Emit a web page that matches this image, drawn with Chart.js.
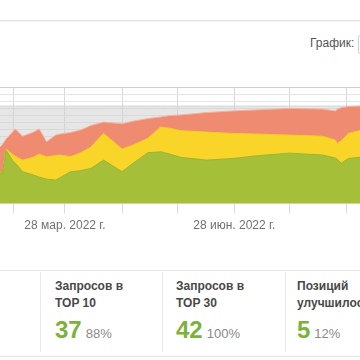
<!DOCTYPE html>
<html>
<head>
<meta charset="utf-8">
<script src="https://cdn.jsdelivr.net/npm/chart.js@4.4.0/dist/chart.umd.min.js"></script>
<style>
  html,body{margin:0;padding:0;background:#fff;}
  body{width:360px;height:360px;overflow:hidden;position:relative;font-family:"Liberation Sans",Arial,sans-serif;}
  .abs{position:absolute;}
  #topline{left:0;top:20px;width:360px;height:1px;background:#e3e3e3;box-shadow:0 1px 1px rgba(0,0,0,0.05);}
  #grafik{left:310px;top:36px;font-size:12px;color:#555;line-height:14px;white-space:nowrap;}
  #selbox{left:358px;top:35px;width:20px;height:17px;border:1px solid #cfcfcf;border-radius:2px;}
  #wrap{left:0;top:80px;width:360px;height:160px;}
  .hl{left:0;width:360px;height:1px;background:#e6e6e6;}
  .sep{top:272px;width:1px;height:80px;background:#e8e8e8;}
  .cell{top:278px;white-space:nowrap;}
  .ttl{font-weight:bold;font-size:12px;line-height:16.5px;color:#484848;}
  .num{margin-top:7px;line-height:24px;white-space:nowrap;}
  .big{font-weight:bold;font-size:24px;color:#7db23a;}
  .pct{font-size:13px;color:#8a8a8a;margin-left:4px;}
</style>
</head>
<body>
<div id="topline" class="abs"></div>
<div id="grafik" class="abs">График:</div>
<div id="selbox" class="abs"></div>
<div id="wrap" class="abs"><canvas id="c" width="360" height="160"></canvas></div>

<div class="abs hl" style="top:270px"></div>
<div class="abs hl" style="top:356px"></div>
<div class="abs sep" style="left:40px"></div>
<div class="abs sep" style="left:162px"></div>
<div class="abs sep" style="left:285px"></div>

<div class="abs cell" style="left:55px"><div class="ttl">Запросов в<br>TOP 10</div><div class="num"><span class="big">37</span><span class="pct">88%</span></div></div>
<div class="abs cell" style="left:176px"><div class="ttl">Запросов в<br>TOP 30</div><div class="num"><span class="big">42</span><span class="pct">100%</span></div></div>
<div class="abs cell" style="left:297px"><div class="ttl">Позиций<br>улучшилось</div><div class="num"><span class="big">5</span><span class="pct">12%</span></div></div>

<script>
// ---- data ----
const dates = ['2022-02-20','2022-02-22','2022-02-24','2022-02-28','2022-03-01','2022-03-05','2022-03-11','2022-03-14','2022-03-18','2022-03-23','2022-03-25','2022-03-31','2022-04-05','2022-04-08','2022-04-11','2022-04-18','2022-04-28','2022-05-04','2022-05-12','2022-05-19','2022-05-24','2022-05-30','2022-06-13','2022-06-27','2022-07-12','2022-07-28','2022-08-15','2022-08-22','2022-08-23','2022-08-25','2022-08-29','2022-09-05'];
const greenVals  = [13.1,13.1,23.0,18.0,17.4,13.7,12.3,11.4,10.5,10.1,11.0,13.7,14.1,14.6,15.1,18.7,13.7,17.3,21.9,22.3,21.3,19.9,18.7,19.4,20.7,21.7,20.9,19.6,19.1,17.3,19.4,20.0];
const yellowVals = [0.0,0.3,0.5,2.9,3.0,5.0,7.7,9.9,9.6,10.6,9.9,6.5,7.6,8.4,9.2,11.5,9.8,7.9,6.2,10.7,11.1,11.5,12.1,10.8,9.2,7.8,8.1,7.7,6.8,9.6,10.8,11.6];
const salmonVals = [10.7,12.0,4.3,10.3,11.7,10.3,10.8,10.8,6.5,8.8,9.0,10.4,9.9,9.5,9.3,4.9,10.9,10.3,8.5,4.3,5.5,6.8,8.4,9.7,10.5,11.5,11.7,12.6,14.8,14.4,11.6,10.4];
const totalVals  = [42,42,42,42,42,42,42,42,42,42,42,42,42,42,42,42,42,42,42,42,42,42,42,42,42,42,42,42,42,42,42,42];
const gridDates  = ['2022-02-28','2022-03-28','2022-04-28','2022-05-28','2022-06-28','2022-07-28','2022-08-28'];
const labelDates = ['2022-03-28','2022-06-28'];
const labelTexts = ['28 мар. 2022 г.','28 июн. 2022 г.'];
const yTickVals  = [50,47,44,41,38,35,32,29,26,23,20,17,14,11,8,5,2];

// ---- helpers ----
const base = Date.UTC(2022,0,1);
function dayNum(s){const p=s.split('-').map(Number);return (Date.UTC(p[0],p[1]-1,p[2])-base)/86400000;}
const xs = dates.map(dayNum);
const pts = arr => arr.map((v,i)=>({x:xs[i],y:v}));
const gridDays = gridDates.map(dayNum);
const labelMap = {};
labelDates.forEach((d,i)=>{labelMap[dayNum(d)] = labelTexts[i];});

const ds = (data,bg,border,stack)=>({data:pts(data),backgroundColor:bg,borderColor:border,borderWidth:1,fill:'origin',pointRadius:0,tension:0,stack:stack});

new Chart(document.getElementById('c'),{
  type:'line',
  data:{datasets:[
    ds(greenVals,'#a5c038','#9db535','a'),
    ds(yellowVals,'#f9d52a','#f3cc25','a'),
    ds(salmonVals,'#ee8b71','#f4b3a0','a'),
    ds(totalVals,'rgba(205,205,205,0.5)','#d8d8d8','b')
  ]},
  options:{
    responsive:false,
    animation:false,
    events:[],
    layout:{padding:{top:7.5,left:0,right:0,bottom:0}},
    plugins:{legend:{display:false},tooltip:{enabled:false}},
    scales:{
      x:{
        type:'linear',min:50.7,max:246.3,
        afterBuildTicks:s=>{s.ticks=gridDays.map(v=>({value:v}));},
        afterFit:s=>{s.height=36.5;},
        grid:{color:'#d9d9d9',tickLength:10,drawTicks:true},
        border:{color:'#dcdcdc'},
        ticks:{padding:5,color:'#707070',font:{family:'"Liberation Sans", Arial, sans-serif',size:12},maxRotation:0,autoSkip:false,
          callback:v=>labelMap[v]||''}
      },
      y:{
        stacked:true,min:0,max:50,
        afterBuildTicks:s=>{s.ticks=yTickVals.map(v=>({value:v}));},
        afterFit:s=>{s.width=0;},
        grid:{drawTicks:false,color:c=>c.tick&&c.tick.value===50?'#cfcfcf':'#e4e4e4'},
        border:{display:false},
        ticks:{display:false}
      }
    }
  }
});
</script>
</body>
</html>
